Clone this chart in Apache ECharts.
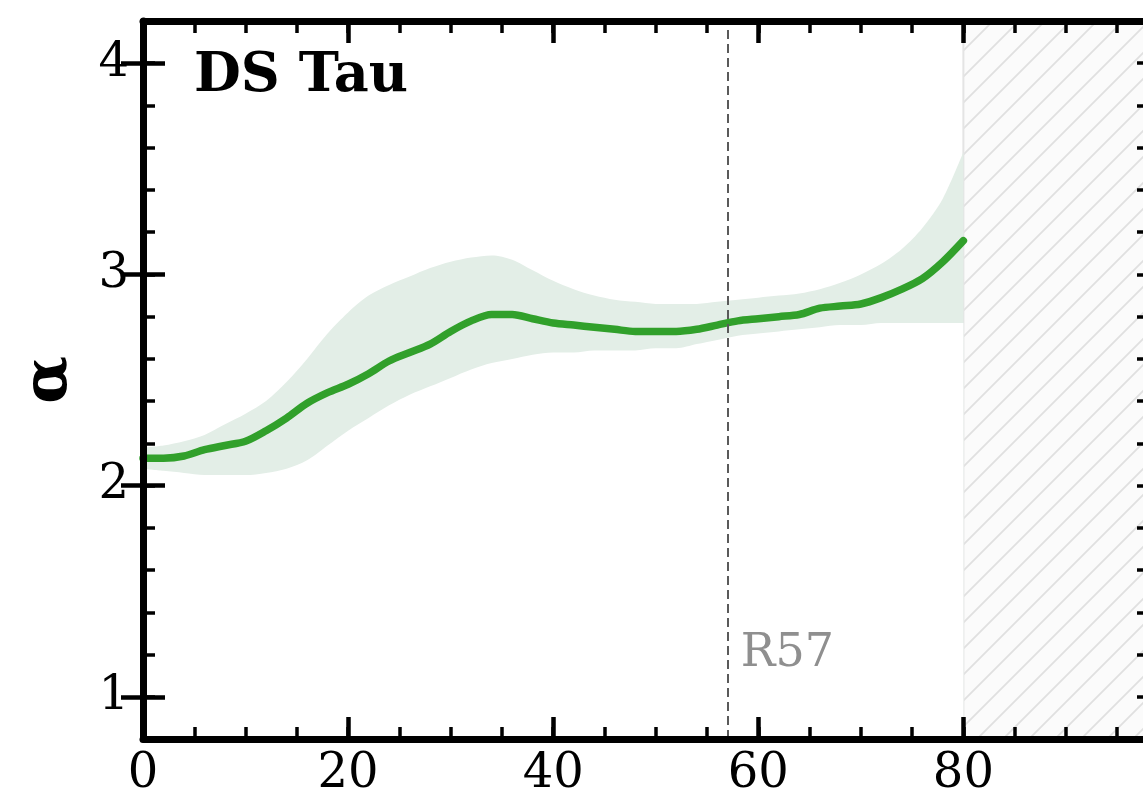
<!DOCTYPE html>
<html>
<head>
<meta charset="utf-8">
<script src="https://cdn.jsdelivr.net/npm/echarts@6/dist/echarts.min.js"></script>
<style>
  html, body { margin: 0; padding: 0; background: #fff; }
  #chart { width: 1143px; height: 799px; }
</style>
</head>
<body>
<div id="chart"></div>
<script>
// Radius grid (x) and power-law index profile
const radius = [0, 2, 4, 6, 8, 10, 12, 14, 16, 18, 20, 22, 24, 26, 28, 30, 32, 34, 36, 38, 40,
  42, 44, 46, 48, 50, 52, 54, 56, 58, 60, 62, 64, 66, 68, 70, 72, 74, 76, 78, 80];
const alphaMid = [2.13, 2.13, 2.14, 2.17, 2.19, 2.21, 2.26, 2.32, 2.39, 2.44, 2.48, 2.53, 2.59, 2.63, 2.67,
  2.73, 2.78, 2.81, 2.81, 2.79, 2.77, 2.76, 2.75, 2.74, 2.73, 2.73, 2.73, 2.74, 2.76, 2.78, 2.79,
  2.80, 2.81, 2.84, 2.85, 2.86, 2.89, 2.93, 2.98, 3.06, 3.16];
const alphaHi = [2.18, 2.19, 2.21, 2.24, 2.29, 2.34, 2.40, 2.49, 2.60, 2.72, 2.82, 2.90, 2.95, 2.99, 3.03,
  3.06, 3.08, 3.09, 3.07, 3.02, 2.97, 2.93, 2.90, 2.88, 2.87, 2.86, 2.86, 2.86, 2.87, 2.88, 2.89,
  2.90, 2.91, 2.93, 2.96, 3.00, 3.05, 3.12, 3.22, 3.36, 3.58];
const alphaLo = [2.08, 2.07, 2.06, 2.05, 2.05, 2.05, 2.06, 2.08, 2.12, 2.19, 2.26, 2.32, 2.38, 2.43, 2.47,
  2.51, 2.55, 2.58, 2.60, 2.62, 2.63, 2.63, 2.64, 2.64, 2.64, 2.65, 2.65, 2.67, 2.69, 2.71, 2.72,
  2.73, 2.74, 2.75, 2.76, 2.76, 2.77, 2.77, 2.77, 2.77, 2.77];

const xMajorTicks = [0, 20, 40, 60, 80];
const yMajorTicks = [1, 2, 3, 4];
const ringRadius = 57;     // dashed marker position
const ringLabel = 'R57';
const maskStart = 80;      // hatched region start
const xMax = 98.1;
const yMin = 0.8, yMax = 4.2;
const title = 'DS Tau';

const serif = "'DejaVu Serif', 'Liberation Serif', serif";

function hatchPattern() {
  const s = 26;
  const c = document.createElement('canvas');
  c.width = s; c.height = s;
  const g = c.getContext('2d');
  g.fillStyle = '#fbfbfb';
  g.fillRect(0, 0, s, s);
  g.strokeStyle = '#e0e0e0';
  g.lineWidth = 1.8;
  g.beginPath();
  g.moveTo(-2, s + 2); g.lineTo(s + 2, -2);
  g.moveTo(-2, 2); g.lineTo(2, -2);
  g.moveTo(s - 2, s + 2); g.lineTo(s + 2, s - 2);
  g.stroke();
  return c;
}

const minorX = [];
for (let v = 0; v < xMax; v += 5) minorX.push(v);
const minorY = [];
for (let k = 0; k <= 17; k++) minorY.push(+(yMin + 0.2 * k).toFixed(1));

const spine = () => ({ show: true, onZero: false, lineStyle: { color: '#000', width: 7 } });
const minorTick = (vals) => ({ show: true, inside: true, length: 12, customValues: vals,
  lineStyle: { color: '#000', width: 3.5 } });
const majorTick = (vals) => ({ show: true, inside: true, length: 22, customValues: vals,
  lineStyle: { color: '#000', width: 4.5 } });
const noLabel = () => ({ show: false });
const tickLabel = (vals, margin) => ({ show: true, customValues: vals, margin: margin,
  color: '#000', fontFamily: serif, fontSize: 48 });

const xBase = () => ({ type: 'value', min: 0, max: xMax, z: 10, splitLine: { show: false } });
const yBase = () => ({ type: 'value', min: yMin, max: yMax, z: 10, splitLine: { show: false } });

const pairs = (ys) => radius.map((x, i) => [x, ys[i]]);

const chart = echarts.init(document.getElementById('chart'), null, { renderer: 'canvas' });

chart.setOption({
  animation: false,
  backgroundColor: '#fff',
  // the right frame edge sits just past the canvas border
  grid: { left: 143, width: 1006, top: 21, height: 718, outerBoundsMode: 'none', containLabel: false },
  xAxis: [
    Object.assign(xBase(), { position: 'bottom', axisLine: spine(), axisTick: minorTick(minorX), axisLabel: noLabel() }),
    Object.assign(xBase(), { position: 'bottom', axisLine: { show: false }, axisTick: majorTick(xMajorTicks),
      axisLabel: tickLabel(xMajorTicks, 12) }),
    Object.assign(xBase(), { position: 'top', axisLine: spine(), axisTick: minorTick(minorX), axisLabel: noLabel() }),
    Object.assign(xBase(), { position: 'top', axisLine: { show: false }, axisTick: majorTick(xMajorTicks), axisLabel: noLabel() })
  ],
  yAxis: [
    Object.assign(yBase(), { position: 'left', axisLine: spine(), axisTick: minorTick(minorY), axisLabel: noLabel(),
      name: 'α', nameLocation: 'middle', nameRotate: 90, nameGap: 62,
      nameTextStyle: { fontFamily: serif, fontSize: 62, fontWeight: 'bold', color: '#000' } }),
    Object.assign(yBase(), { position: 'left', axisLine: { show: false }, axisTick: majorTick(yMajorTicks),
      axisLabel: tickLabel(yMajorTicks, 14) }),
    Object.assign(yBase(), { position: 'right', axisLine: spine(), axisTick: minorTick(minorY), axisLabel: noLabel() }),
    Object.assign(yBase(), { position: 'right', axisLine: { show: false }, axisTick: majorTick(yMajorTicks), axisLabel: noLabel() })
  ],
  series: [
    {
      name: 'mask', type: 'line', data: [], silent: true, z: 1,
      markArea: {
        silent: true,
        itemStyle: { color: { image: hatchPattern(), repeat: 'repeat' }, borderColor: '#e4e4e4', borderWidth: 2 },
        data: [[{ xAxis: maskStart, yAxis: yMin }, { xAxis: xMax, yAxis: yMax }]]
      }
    },
    {
      // upper edge of the uncertainty band, filled down to the axis floor
      name: 'upper', type: 'line', data: pairs(alphaHi), symbol: 'none', smooth: 0.3,
      lineStyle: { width: 0, opacity: 0 }, areaStyle: { color: '#e3eee7', opacity: 1, origin: 'start' },
      silent: true, z: 2
    },
    {
      // lower edge: white fill clears the region below the band
      name: 'lower', type: 'line', data: pairs(alphaLo), symbol: 'none', smooth: 0.3,
      lineStyle: { width: 0, opacity: 0 }, areaStyle: { color: '#ffffff', opacity: 1, origin: 'start' },
      silent: true, z: 2
    },
    {
      name: 'alpha', type: 'line', data: pairs(alphaMid), symbol: 'none', smooth: 0.3, z: 4,
      lineStyle: { color: '#31a02b', width: 7.5, cap: 'round' },
      markLine: {
        silent: true, symbol: 'none', label: { show: false },
        lineStyle: { color: '#5a5a5a', width: 2, type: [9, 5] },
        data: [{ xAxis: ringRadius }]
      }
    }
  ]
});

// text annotations placed through the axis scales
const rPos = chart.convertToPixel({ xAxisIndex: 0, yAxisIndex: 0 }, [ringRadius + 1.3, 1.2]);
chart.setOption({
  graphic: [
    { type: 'text', left: 194, top: 50, z: 10,
      style: { text: title, fontFamily: serif, fontSize: 54, fontWeight: 'bold', fill: '#000' } },
    { type: 'text', x: rPos[0], y: rPos[1], z: 10,
      style: { text: ringLabel, fontFamily: serif, fontSize: 46, fill: '#8f8f8f', verticalAlign: 'middle' } }
  ]
});
</script>
</body>
</html>
